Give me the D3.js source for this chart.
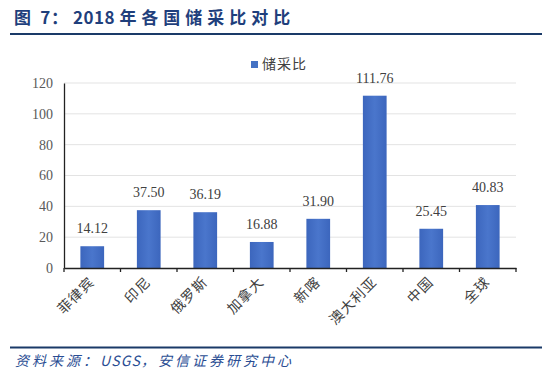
<!DOCTYPE html>
<html><head><meta charset="utf-8">
<script src="https://cdn.jsdelivr.net/npm/d3@7/dist/d3.min.js"></script>
<style>body{margin:0;background:#fff}svg{display:block}</style>
</head><body>
<svg id="c" width="549" height="381"></svg>
<script>
const categories = ["菲律宾","印尼","俄罗斯","加拿大","新喀","澳大利亚","中国","全球"];
const values = [14.12, 37.50, 36.19, 16.88, 31.90, 111.76, 25.45, 40.83];
const yTicks = [0, 20, 40, 60, 80, 100, 120];
const seriesName = "储采比";
const titleText = "图 7：2018 年各国储采比对比";
const sourceText = "资料来源：USGS，安信证券研究中心";

const svg = d3.select("#c");
const defs = svg.append("defs");
const g1 = defs.append("linearGradient").attr("id","bg").attr("x1","0").attr("x2","1").attr("y1","0").attr("y2","0");
g1.append("stop").attr("offset","0").attr("stop-color","#3c66bd");
g1.append("stop").attr("offset","0.5").attr("stop-color","#4a76cc");
g1.append("stop").attr("offset","1").attr("stop-color","#3c66bd");

// write text in runs: CJK runs spaced, ASCII runs tighter
function runs(sel, str, cjkSp, asciiSp){
  const parts = str.match(/[\x20-\x7E]+|[^\x20-\x7E]+/g);
  parts.forEach(p=>{
    const ascii = /^[\x20-\x7E]+$/.test(p);
    sel.append("tspan").attr("letter-spacing", ascii ? asciiSp : cjkSp).text(p);
  });
}

// title
const t = svg.append("text").attr("x",14).attr("y",24)
  .attr("font-family","'Noto Sans CJK SC', sans-serif").attr("font-weight","bold")
  .attr("font-size",17).attr("fill","#1f3f7c");
runs(t, titleText, 5, 0.5);
svg.append("line").attr("x1",10).attr("x2",542).attr("y1",34).attr("y2",34)
  .attr("stroke","#1a3a68").attr("stroke-width",2.2);

const x = d3.scaleBand().domain(categories).range([64,516]).paddingInner(0.58).paddingOuter(0.29);
const y = d3.scaleLinear().domain([0,120]).range([268,83]);

// gridlines
svg.append("g").selectAll("line").data(yTicks.slice(1)).join("line")
  .attr("x1",64).attr("x2",516).attr("y1",d=>y(d)).attr("y2",d=>y(d))
  .attr("stroke","#e3e3e3").attr("stroke-width",1);

// y axis
const ya = svg.append("g").attr("transform","translate(64,0)")
  .call(d3.axisLeft(y).tickValues(yTicks).tickSize(0).tickPadding(11));
ya.select(".domain").attr("stroke","#222").attr("stroke-width",1.3);
ya.selectAll("text").attr("font-family","'Liberation Serif', serif").attr("font-size",14).attr("fill","#595959");

// bars
svg.append("g").selectAll("rect").data(values).join("rect")
  .attr("x",(d,i)=>x(categories[i])).attr("width",x.bandwidth())
  .attr("y",d=>y(d)).attr("height",d=>y(0)-y(d)).attr("fill","url(#bg)");

// value labels
svg.append("g").selectAll("text").data(values).join("text")
  .attr("x",(d,i)=>x(categories[i])+x.bandwidth()/2).attr("y",d=>y(d)-13)
  .attr("text-anchor","middle").attr("font-family","'Liberation Serif', serif")
  .attr("font-size",14).attr("fill","#404040").text(d=>d.toFixed(2));

// x axis
const xa = svg.append("g").attr("transform","translate(0,268)")
  .call(d3.axisBottom(x).tickSize(0).tickFormat(""));
xa.select(".domain").attr("stroke","#222").attr("stroke-width",1.3);
const bounds = categories.map((c,i)=>x(c)-x.step()*x.paddingInner()/2);
bounds.push(516);
xa.selectAll(".tk").data(bounds).join("line").attr("class","tk")
  .attr("x1",d=>d).attr("x2",d=>d).attr("y1",0).attr("y2",4).attr("stroke","#222").attr("stroke-width",1.3);
svg.append("g").selectAll("text").data(categories).join("text")
  .attr("transform",d=>`translate(${x(d)+x.bandwidth()/2+3},${283}) rotate(-45)`)
  .attr("text-anchor","end").attr("font-family","'Noto Sans CJK SC', sans-serif")
  .attr("font-size",14).attr("letter-spacing",1).attr("fill","#404040").text(d=>d);

// legend
svg.append("rect").attr("x",251).attr("y",61).attr("width",7).attr("height",7).attr("fill","#4472c4");
svg.append("text").attr("x",262).attr("y",69).attr("font-family","'Noto Sans CJK SC', sans-serif")
  .attr("font-size",14).attr("letter-spacing",1).attr("fill","#404040").text(seriesName);

// source
svg.append("line").attr("x1",10).attr("x2",542).attr("y1",347.5).attr("y2",347.5)
  .attr("stroke","#1a3a68").attr("stroke-width",2.2);
const s = svg.append("text").attr("x",15).attr("y",366).attr("font-family","'Noto Sans CJK SC', sans-serif")
  .attr("font-style","italic").attr("font-size",14).attr("fill","#2a4d93");
runs(s, sourceText, 3, 1.2);
</script>
</body></html>
